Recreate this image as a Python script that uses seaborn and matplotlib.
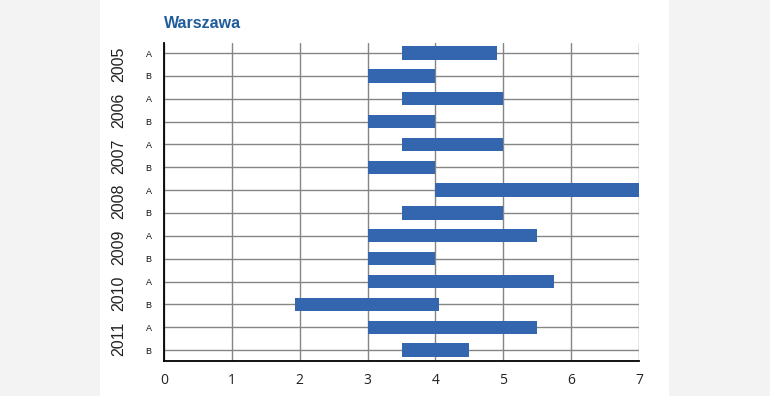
import numpy as np
import pandas as pd
import matplotlib
matplotlib.use("Agg")
import matplotlib.pyplot as plt
import seaborn as sns

# data (start / end of each range bar)
years = ["2005", "2006", "2007", "2008", "2009", "2010", "2011"]
variants = ["A", "B"]
starts = [3.5, 3.0, 3.5, 3.0, 3.5, 3.0, 4.0, 3.5, 3.0, 3.0, 3.0, 1.93, 3.0, 3.5]
ends = [4.9, 4.0, 5.0, 4.0, 5.0, 4.0, 7.0, 5.0, 5.5, 4.0, 5.75, 4.05, 5.5, 4.5]
x_ticks = [0, 1, 2, 3, 4, 5, 6, 7]

rows = [f"{y} {v}" for y in years for v in variants]
df = pd.DataFrame({"row": rows, "start": starts, "end": ends})
df["length"] = df["end"] - df["start"]

sns.set_style("white")
plt.rcParams["font.family"] = ["Open Sans", "DejaVu Sans"]

fig = plt.figure(figsize=(7.7, 3.96), dpi=100)
fig.patch.set_facecolor("#f3f3f3")
# white card behind the chart
bg = fig.add_axes([100 / 770, 0, 569 / 770, 1], zorder=0)
bg.set_facecolor("white")
bg.set_xticks([])
bg.set_yticks([])
for s in bg.spines.values():
    s.set_visible(False)

ax = fig.add_axes([164 / 770, 35 / 396, 475 / 770, 318 / 396], zorder=1)
ax.set_facecolor("white")

sns.barplot(data=df, y="row", x="length", left=df["start"].values, order=rows,
            color="#3465af", saturation=1, width=0.58, orient="h", ax=ax, zorder=3,
            linewidth=0, edgecolor="none")

ax.set_xlim(0, 7)
ax.set_ylim(13.48, -0.44)
ax.set_xticks(x_ticks)
ax.set_xticklabels([str(t) for t in x_ticks], fontsize=10, color="#222222")
ax.set_yticks(range(len(rows)))
ax.set_yticklabels([r.split()[1] for r in rows], fontsize=6.5, color="#111111",
                   family=["Liberation Sans"])
ax.tick_params(axis="x", length=0, pad=9)
ax.tick_params(axis="y", length=0, pad=9)
ax.set_xlabel("")
ax.set_ylabel("")

ax.grid(True, color="#858585", linewidth=1)
ax.set_axisbelow(True)
for s in ["top", "right"]:
    ax.spines[s].set_visible(False)
for s in ["left", "bottom"]:
    ax.spines[s].set_color("black")
    ax.spines[s].set_linewidth(1.3)

# year labels, rotated, between A and B rows
for i, y in enumerate(years):
    ax.text(-45 / 475 * 7, 2 * i + 0.5, y, rotation=90, ha="center", va="center",
            fontsize=11.5, color="#222222", family=["Liberation Sans"], clip_on=False)

fig.text(164 / 770, 1 - 24 / 396, "Warszawa", ha="left", va="center", fontsize=11.5,
         fontweight="bold", color="#1f5c9c", family=["Liberation Sans"])

fig.savefig("out.png", dpi=100, facecolor=fig.get_facecolor())
